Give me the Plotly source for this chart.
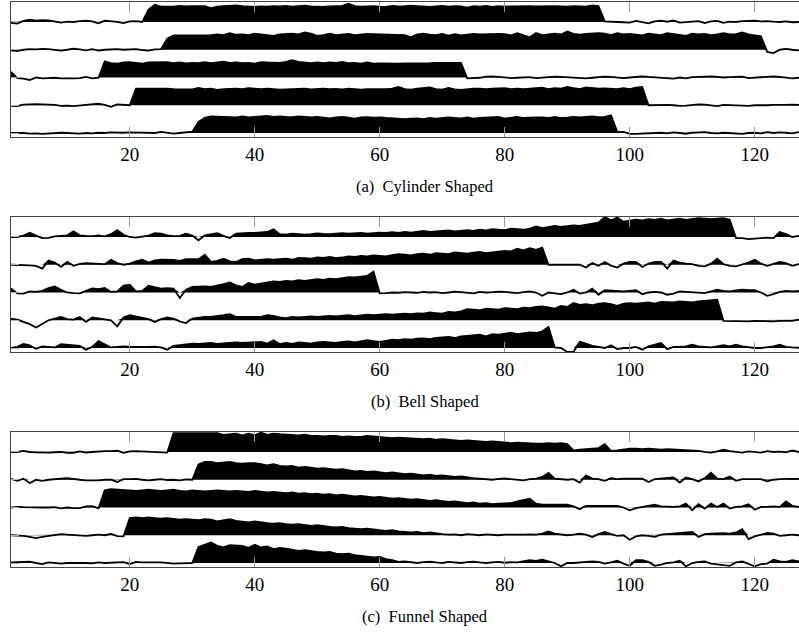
import numpy as np
import plotly.graph_objects as go

t = list(range(1, 129))

# ---- Panel (a) Cylinder Shaped: rows top -> bottom (values in hundredths of row spacing)
a1 = [-3, -6, 4, 8, 5, 7, 6, 2, -2, 1, 0, 3, 5, 2, -5, 5, 3, 0, -4, 2, 3, 0,
      45, 62, 55, 54, 55, 58, 56, 57, 57, 57, 50, 55, 57, 58, 60, 57, 55, 54, 56, 55,
      57, 56, 58, 55, 57, 59, 56, 55, 54, 56, 57, 58, 66, 57, 55, 56, 57, 55, 54, 58,
      56, 57, 59, 57, 55, 54, 56, 58, 55, 57, 56, 52, 57, 55, 58, 54, 57, 55, 56, 57,
      58, 57, 56, 57, 58, 57, 56, 55, 57, 56, 55, 60, 57,
      2, 0, 0, -1, -2, 4, 0, -5, 2, 5, 1, 6, -2, -1, 0, 3, -4, 2, 4, -3, 1, 0, 3, 4, 5, 2, 3, 1, 0, 2, -1, 0, 1]
a2 = [-2, -5, 0, 2, 1, 3, 2, -1, -3, 0, 4, 1, -2, 2, -3, 0, 1, 2, 0, 1, 2, -1, -3, 1, 2,
      40, 52, 52, 52, 53, 52, 52, 53, 55, 53,
      60, 54, 55, 53, 58, 55, 52, 50, 55, 57,
      58, 55, 62, 58, 50, 53, 58, 53, 55, 57,
      53, 55, 57, 56, 55, 55, 54, 54, 53, 45,
      55, 58, 54, 53, 57, 51, 56, 52, 55, 57,
      55, 56, 58, 57, 56, 52, 60, 53, 45, 60,
      53, 55, 58, 55, 66, 57, 54, 57, 58, 60,
      58, 53, 60, 55, 57, 54, 52, 58, 55, 53,
      60, 57, 55, 50, 58, 55, 57, 53, 55, 60,
      55, 56, 62, 55, 52, 48,
      -8, -12, 0, 3, 0, -2, 0]
a3 = [20, -2, -4, -9, 0, -3, -2, -1, -3, -4, -3, -2, 2, -3, -1,
      58, 52, 50, 54, 55, 52, 50, 54, 55, 55,
      55, 52, 54, 51, 53, 52, 55, 52, 54, 57,
      53, 54, 52, 53, 50, 55, 54, 54, 53, 56,
      62, 56, 55, 52, 54, 52, 54, 53, 56, 52,
      53, 50, 54, 50, 51, 50, 50, 50, 51, 51,
      50, 51, 52, 53, 52, 53, 53, 53,
      -3, -2, -1, 3, 4, 2, 0, -2, -1, 0,
      1, -2, 0, 2, 3, 2, 1, 0, -1, -3,
      -1, 2, 3, 2, 1, -2, 0, 3, 4, 2,
      1, 0, -1, -4, 0, -3, 1, 2, 3, 4,
      2, 0, 1, 2, 3, -2, 0, 1, 3, 4,
      2, 0, -3, -1, 2]
a4 = [-2, -3, 2, 4, 4, 3, 3, 1, -2, -1, -3, -1, 2, 3, 6, 1, -6, 3, 2, 0,
      60, 60, 62, 62, 60, 60, 58, 57, 58, 57,
      62, 58, 60, 55, 58, 60, 60, 58, 62, 60,
      58, 60, 58, 56, 57, 58, 58, 60, 57, 58,
      60, 58, 59, 57, 60, 58, 56, 58, 58, 57,
      58, 60, 66, 58, 56, 60, 62, 64, 58, 56,
      62, 57, 55, 58, 60, 60, 58, 60, 60, 62,
      58, 60, 58, 60, 62, 63, 58, 62, 60, 66,
      62, 58, 64, 62, 60, 61, 60, 58, 62, 58,
      63, 66,
      0, 1, 2, 1, 0, -2, -1, 1, 3, 2, 0, -3, 1, 0, -1, 0, -2, 0, -1, 0, 1, 0, 1, 2, 1, 1]
a5 = [0, 1, 0, -2, -1, -3, -1, 0, 1, 0,
      -1, -2, 0, -1, 1, 0, 2, 1, 1, 2,
      2, 1, 2, 0, 4, 0, -2, 0, 3, 5,
      40, 55, 60, 60, 58, 57, 56, 60, 56, 58,
      60, 62, 58, 60, 58, 57, 60, 58, 56, 58,
      55, 53, 56, 58, 55, 52, 56, 57, 55, 56,
      54, 53, 50, 50, 52, 53, 50, 54, 52, 53,
      56, 54, 53, 56, 52, 54, 56, 57, 58, 52,
      55, 58, 54, 56, 56, 56, 54, 58, 54, 55,
      58, 56, 57, 60, 57, 58, 64,
      4, 4, -3, -3, -2, -2, -1, 1, -1, 2, 0, -3, 1, 2, 3, 0, -1, 1, 0, -2, -3, 0, 1, -1, 3, 0, 2, 1, -1, 3, 1]

# ---- Panel (b) Bell Shaped
b1 = [0, 0, 5, 15, 5, -4, -3, 2, 4, 6,
      20, 6, 4, 3, 6, 2, 10, 25, 8, 0,
      -2, 2, 5, 14, 12, 6, 3, 4, 12, 5,
      -12, 6, 10, 14, 4, -4, 12, 14, 15, 15,
      16, 18, 28,
      10, 8, 12, 10, 8, 10, 13, 11, 10, 12,
      14, 12, 13, 15, 12, 14, 16, 15, 17, 15,
      18, 16, 20, 22, 18, 20, 22, 24, 20, 22,
      25, 22, 26, 24, 28, 26, 25, 30, 28, 26,
      30, 38, 32, 35, 40, 36, 38, 42, 40, 45,
      48, 52, 72, 60, 70, 55, 58, 62, 60, 64,
      62, 66, 60, 64, 66, 62, 65, 68, 66, 64,
      66, 68, 62,
      -4, -4, -8, -6, -4, -2, -4, 18, 10, 0, 4, 10]
b2 = [0, 0, 0, -2, -4, -14, 15, 8, -8, 10,
      -4, 3, 6, 5, 3, 2, 18, 6, 0, 4,
      12, 18, 8, 16, 18, 18, 17, 14, 20, 20,
      20, 36, 10, 14, 22, 12, 10, 20, 22, 16,
      18, 20, 18,
      20, 22, 18, 25, 24, 22, 26, 25, 28, 24,
      26, 30, 28, 32, 30, 34, 32, 30, 35, 38,
      36, 34, 38, 40, 36, 42, 40, 38, 44, 42,
      40, 44, 46, 42, 45, 48, 50, 48, 58, 52,
      60, 54, 62,
      0, 0, 0, 0, 0, 0, -10, 6, -4, 10,
      -3, -10, 4, 10, 10, -8, 4, 10, 10, -14,
      15, 8, 4, 2, -4, -6, 4, 22, 2, -4,
      -6, 0, 8, 18, 4, -4, 2, 10, 6, -4,
      2, 12]
b3 = [15, -3, -4, 4, 2, 6, 16, 22, 10, 0,
      -2, -3, 6, 15, 12, 16, 2, 4, 25, 28,
      4, 6, 24, 18, 14, 16, 14, -20, 10, 20,
      22, 22, 20, 24, 30, 36, 26, 20, 34, 28,
      32, 36, 40,
      38, 42, 40, 44, 42, 46, 48, 45, 50, 48, 52, 55, 54, 58, 60, 75,
      -3, -2, 0, -1, 1, 0, -1, 2, 0, 1,
      -2, 0, 3, 1, 0, -3, 2, 0, 1, 3,
      2, 0, -2, 1, 4, 0, -12, 0, -2, -6,
      0, 10, -4, 0, 14, -8, 8, 6, 4, 4,
      6, 8, -6, 0, 2, 0, -8, -4, 4, 2,
      0, -2, -2, 4, 10, 6, 4, 8, 10, 8,
      8, 0, -12, -6, 2, 6, 4, 6, 10]
b4 = [6, 2, -6, -14, -26, -14, 0, 6, 12, 4,
      2, 12, -6, 10, 6, 2, 0, -22, 10, 18,
      14, 10, 4, -6, 4, 10, 6, -4, -10, 6,
      10, 12, 12, 14, 18, 22, 12, 12, 11, 12,
      12, 18, 16,
      10, 8, 12, 10, 12, 14, 12, 15, 16, 14,
      16, 18, 15, 18, 20, 18, 20, 22, 20, 22,
      24, 22, 25, 24, 28, 26, 24, 30, 28, 32,
      40, 38, 36, 42, 40, 38, 44, 42, 40, 45,
      44, 48, 50, 46, 42, 52, 48, 62, 55, 58,
      54, 60, 62, 58, 52, 60, 62, 60, 62, 64,
      60, 66, 65, 64, 68, 66, 64, 68, 70, 72,
      74,
      -2, -3, -2, -3, -4, -2, -3, -2, -4, -2, -3, -2, 2, 18]
b5 = [0, 4, 15, 10, -3, 6, 4, 2, 14, 12,
      10, 8, -6, 4, 25, 12, 2, 4, 6, 4,
      5, 4, 4, 5, 2, -6, 8, 10, 14, 16,
      15, 16, 18, 15, 16, 18, 20, 18, 20, 22,
      22, 16, 28,
      14, 18, 15, 20, 18, 16, 20, 22, 20, 18,
      22, 24, 20, 25, 28, 25, 22, 26, 30, 28,
      32, 30, 34, 35, 32, 36, 38, 40, 36, 42,
      44, 46, 48, 42, 50, 48, 52, 55, 50, 54,
      56, 54, 60, 76,
      2, 0, -14, -14, 22, 16, 8, 4, 0, 10,
      -4, 0, 0, 4, -6, 6, 12, 18, -4, 4,
      4, 6, 12, 6, 4, 2, 6, 10, 6, 12,
      6, 2, 0, 0, 2, 6, 12, 4, 2, 0,
      0]

# ---- Panel (c) Funnel Shaped
c1 = [0, 0, 4, 0, -1, -2, -2, -1, 0, -3,
      -3, 2, -2, 0, 2, 3, 3, 5, -3, 2,
      3, 2, 3, 0, -1, -2,
      68, 68, 66, 66, 66, 68, 68, 68, 62, 64,
      66, 60, 66, 60, 70, 62, 66, 64, 62, 60,
      60, 62, 58, 58, 56, 58, 58, 54, 56, 54,
      54, 58, 56, 54, 52, 50, 52, 50, 48, 48,
      46, 48, 44, 46, 44, 42, 40, 42, 40, 38,
      36, 38, 36, 34, 32, 34, 32, 30, 30, 30,
      32, 30, 32, 28, 6,
      8, 10, 10, 14, 28, 4, 6, 10, 12, 12,
      10, 12, 10, 8, 10, 9, 8, 8, 6, 4,
      0, -2, 2, 8, 3, 0, -2, 2, 0, -2,
      3, 0, 1, -1, 6, 0, 2]
c2 = [3, -4, 4, -12, 0, -4, 0, 3, 4, 6,
      2, 0, -2, -3, -2, 0, 0, -8, 2, 2,
      3, 0, -2, 0, 2, -1, 0, -2, 1, 0,
      55, 64, 64, 60, 62, 64, 60, 58, 60, 60,
      56, 52, 56, 50, 48, 50, 44, 46, 44, 40,
      42, 38, 36, 38, 34, 30, 32, 28, 30, 26,
      24, 26, 22, 20, 22, 18, 16, 18, 14, 16,
      12, 10, 12, 8, 6,
      4, 2, 0, 3, 5, 2, 0, -2, 2, 4,
      10, 25, 4, 2, 0, 2, -10, 16, 4, 2,
      -4, 6, 2, 4, 5, 4, 4, -8, 2, 4,
      4, 8, -10, 8, 2, -6, 6, 25, 4, 2,
      12, -4, 2, 2, 2, 2, -6, 0, 2, 2,
      3, 4, 6]
c3 = [0, 2, 1, 0, 0, 0, 0, 1, -3, 0, -2, -2, 4, 5, -3,
      62, 66, 64, 64, 62, 60, 62, 64, 62, 60,
      62, 64, 60, 58, 62, 60, 58, 60, 62, 60,
      58, 60, 58, 56, 60, 56, 54, 56, 54, 52,
      54, 50, 52, 48, 50, 46, 48, 44, 46, 42,
      40, 42, 38, 36, 38, 34, 32, 34, 30, 28,
      30, 26, 24, 26, 22, 20, 22, 18, 16, 18,
      14, 16, 12, 14, 14, 16, 22, 28, 32, 14,
      10,
      10, 10, 8, 10, 4, -6, 6, 6, 8, 6,
      6, 6, 0, -10, -2, 2, 4, 10, 4, 2,
      2, 4, 14, -10, 12, -4, 14, 2, 14, -4,
      2, 4, 12, -8, 2, 2, 4, 2, 22, 6,
      2, 4]
c4 = [0, 0, -2, -6, -10, -6, -2, 2, 4, 2,
      0, -1, -2, 0, 2, 0, 5, -3, -4,
      62, 64, 62, 64, 62, 60, 62, 58, 56, 58,
      56, 54, 58, 56, 50, 54, 58, 52, 48, 46,
      50, 46, 44, 42, 44, 40, 38, 40, 36, 34,
      36, 32, 30, 28, 30, 26, 24, 22, 24, 20,
      18, 16, 18, 14, 12, 10, 12, 8, 10, 6,
      4,
      2, 3, 0, 4, 2, 0, 3, 1, 0, 2,
      2, 0, 2, 3, 2, 6, 14, 6, 2, 0,
      2, 6, 2, -6, 4, 12, 4, -2, 0, -16,
      -4, 0, -2, -6, 2, 4, 8, 8, 10, 12,
      -6, 4, 6, 8, 8, 6, 10, 22, -14, -4,
      2, 8, 6, -2, 0, 2, 0, 0]
c5 = [2, 3, 2, 5, 0, -4, 2, 0, -2, 0,
      0, 2, 0, -1, 2, 0, 1, 2, 3, -4,
      4, 2, 3, 2, 2, 0, -2, -1, 0, 0,
      58, 66, 74, 62, 56, 64, 62, 62, 55, 66,
      56, 60, 50, 54, 52, 48, 44, 46, 42, 40,
      38, 40, 34, 32, 34, 28, 26, 24, 20, 22,
      14, 10,
      4, 6, 2, 0, 3, 5, 2, 0, 4, 2,
      0, 3, 5, 2, 0, 2, 4, 1, 3, 2,
      6, 10, 8, 12, 6, 0, -12, 0, 0, 2,
      2, 6, 4, -2, 2, 8, -2, -10, 10, 10,
      4, -10, -6, 0, 2, 8, -12, 0, 4, 6,
      -2, -6, -8, -10, 2, 6, -4, -12, -4, -2,
      12, 6, 4, 10, 6, 4]

panels = [[a1, a2, a3, a4, a5], [b1, b2, b3, b4, b5], [c1, c2, c3, c4, c5]]
captions = ["(a)\u00a0 Cylinder Shaped", "(b)\u00a0 Bell Shaped", "(c)\u00a0 Funnel Shaped"]
xticks = [20, 40, 60, 80, 100, 120]

W, H = 799, 637
tops = [2, 217, 432]
ph = 135
left = 11

fig = go.Figure()
layout = dict(width=W, height=H, margin=dict(l=0, r=0, t=0, b=0),
              plot_bgcolor="white", paper_bgcolor="white", showlegend=False)
annotations = []
font = "Liberation Serif"

for p, rows in enumerate(panels):
    xa = "x" if p == 0 else f"x{p+1}"
    ya = "y" if p == 0 else f"y{p+1}"
    for i, vals in enumerate(rows):
        off = (4 - i) * 100
        v = np.array(vals, dtype=float)
        fig.add_trace(go.Scatter(x=t, y=[off] * len(t), mode="lines",
                                 line=dict(width=0, color="black"),
                                 xaxis=xa, yaxis=ya, hoverinfo="skip"))
        fig.add_trace(go.Scatter(x=t, y=off + np.maximum(v, 0), mode="lines",
                                 line=dict(width=0, color="black"),
                                 fill="tonexty", fillcolor="black",
                                 xaxis=xa, yaxis=ya, hoverinfo="skip"))
        fig.add_trace(go.Scatter(x=t, y=off + v, mode="lines",
                                 line=dict(width=1.8, color="black"),
                                 xaxis=xa, yaxis=ya, hoverinfo="skip"))
    top = tops[p]
    bot = top + ph
    dom_y = [1 - bot / H, 1 - top / H]
    xkey = "xaxis" if p == 0 else f"xaxis{p+1}"
    ykey = "yaxis" if p == 0 else f"yaxis{p+1}"
    layout[xkey] = dict(domain=[left / W, 1], range=[1, 127.08], anchor=ya,
                        tickvals=xticks, ticktext=[str(v) for v in xticks],
                        ticks="inside", ticklen=10, tickcolor="#999999", tickwidth=1,
                        showline=True, linecolor="#444444", linewidth=1.2, mirror="ticks",
                        showgrid=False, zeroline=False,
                        tickfont=dict(family=font, size=19, color="black"))
    layout[ykey] = dict(domain=dom_y, range=[-14.4, 472], anchor=xa,
                        tickvals=[0, 100, 200, 300, 400], showticklabels=False,
                        ticks="inside", ticklen=8, tickcolor="#aaaaaa",
                        showline=True, linecolor="#444444", linewidth=1.2,
                        showgrid=False, zeroline=False)
    cap_y = bot + 49
    annotations.append(dict(text=captions[p], x=425 / W, y=1 - cap_y / H,
                            xref="paper", yref="paper", showarrow=False,
                            xanchor="center", yanchor="middle",
                            font=dict(family=font, size=16.5, color="black")))

layout["annotations"] = annotations
fig.update_layout(**layout)
fig.write_html("out.html")
